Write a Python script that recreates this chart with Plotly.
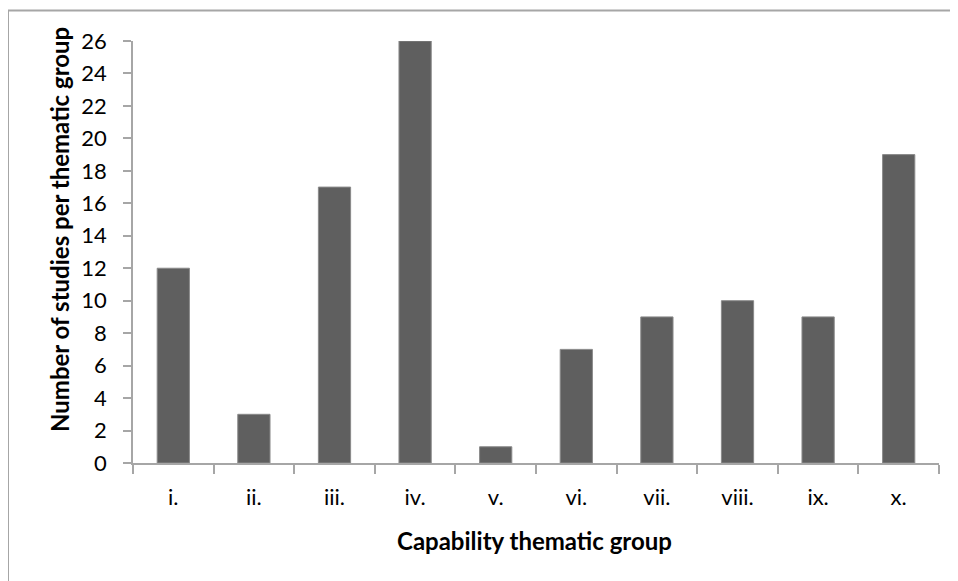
import plotly.graph_objects as go

categories = ["i.", "ii.", "iii.", "iv.", "v.", "vi.", "vii.", "viii.", "ix.", "x."]
studies = [12, 3, 17, 26, 1, 7, 9, 10, 9, 19]
y_ticks = list(range(0, 27, 2))

W, H = 958, 581
OFF = 8  # page body margin
L, R, T, B = 133 - OFF, 939 - OFF, 41 - OFF, 463 - OFF
pw, ph = R - L, B - T

def px(x):
    return (x - OFF - L) / pw

def py(y):
    return (B - (y - OFF)) / ph

font_family = "Lato, Open Sans, sans-serif"
axis_color = "#a6a6a6"

fig = go.Figure(
    go.Bar(
        x=categories,
        y=studies,
        marker=dict(color="#5f5f5f", line=dict(color="#8a8a8a", width=1)),
        width=0.4,
    )
)

fig.update_layout(
    width=W,
    height=H,
    margin=dict(l=L, r=W - R, t=T, b=H - B),
    paper_bgcolor="white",
    plot_bgcolor="white",
    showlegend=False,
    font=dict(family=font_family, size=22, color="black"),
)

fig.update_xaxes(
    type="category",
    showline=True,
    linecolor=axis_color,
    linewidth=1.5,
    ticks="outside",
    tickson="boundaries",
    ticklen=9,
    tickcolor=axis_color,
    tickwidth=1.5,
    showgrid=False,
    ticklabelstandoff=14,
    tickfont=dict(size=22),
)

fig.update_yaxes(
    range=[0, 26],
    tickvals=y_ticks,
    showline=True,
    linecolor=axis_color,
    linewidth=1.5,
    ticks="outside",
    ticklen=8,
    tickcolor=axis_color,
    tickwidth=1.5,
    showgrid=False,
    zeroline=False,
    ticklabelstandoff=12,
    tickfont=dict(size=22),
)

fig.add_annotation(
    text="<b>Capability thematic group</b>",
    xref="paper", yref="paper",
    x=px(534), y=py(540),
    showarrow=False,
    font=dict(size=24),
    xanchor="center", yanchor="middle",
)
fig.add_annotation(
    text="<b>Number of studies per thematic group</b>",
    xref="paper", yref="paper",
    x=px(59), y=py(230),
    showarrow=False,
    textangle=-90,
    font=dict(size=24),
    xanchor="center", yanchor="middle",
)

fig.add_shape(
    type="rect",
    xref="paper", yref="paper",
    x0=px(8), x1=px(990), y0=py(620), y1=py(10.5),
    line=dict(color="#a6a6a6", width=2),
    fillcolor="rgba(0,0,0,0)",
    layer="below",
)

fig.write_html("out.html")
